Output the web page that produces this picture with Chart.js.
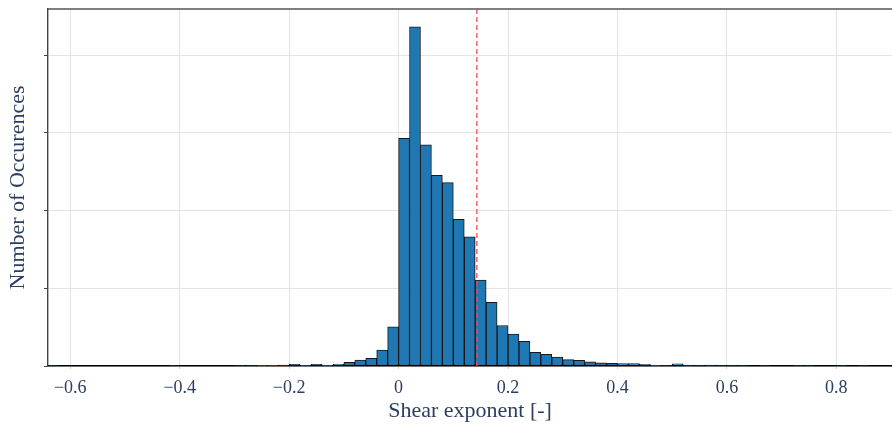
<!DOCTYPE html>
<html>
<head>
<meta charset="utf-8">
<title>Shear exponent histogram</title>
<script src="https://cdn.jsdelivr.net/npm/chart.js@4.4.1/dist/chart.umd.min.js"></script>
<style>
  html, body { margin: 0; padding: 0; background: #fff; }
  #wrap { width: 892px; height: 424px; }
</style>
</head>
<body>
<div id="wrap"><canvas id="c" width="892" height="424"></canvas></div>
<script>
// Histogram of the shear exponent: bins of width 0.02 starting at -0.64
const binStart = -0.64;
const binWidth = 0.02;
const counts = [
  6, 0, 0, 0, 0, 0, 0, 0, 0, 0,          // -0.64 .. -0.46
  0, 6, 0, 0, 0, 0, 0, 6, 6, 10,         // -0.44 .. -0.26
  10, 12, 20, 10, 20, 10, 22, 48, 77, 99, // -0.24 .. -0.06
  206, 505, 2929, 4364, 2845, 2453, 2358, 1887, 1663, 1106, // -0.04 .. 0.14
  819, 521, 412, 318, 176, 150, 116, 81, 73, 55,            // 0.16 .. 0.34
  42, 35, 30, 30, 22, 9, 6, 28, 12, 6,                      // 0.36 .. 0.54
  12, 6, 6, 6, 0, 6, 0, 0, 6, 6,                            // 0.56 .. 0.74
  0, 0, 6, 0, 6                                             // 0.76 .. 0.84
];
// Mean shear exponent marker
const meanShear = 0.143;
const xTickValues = [-0.6, -0.4, -0.2, 0, 0.2, 0.4, 0.6, 0.8];
const yTickValues = [0, 1000, 2000, 3000, 4000];

const xMin = -0.6407, xMax = 0.9017;
const yMax = 4592;

const points = counts.map((c, i) => ({ x: binStart + binWidth * (i + 0.5), y: c }));

const fontFamily = '"Liberation Serif", "Times New Roman", serif';
const textColor = '#2a3f5f';

// Dashed vertical line at the mean plus the top frame line
const overlay = {
  id: 'overlay',
  afterDatasetsDraw(chart) {
    const { ctx, chartArea, scales } = chart;
    const px = scales.x.getPixelForValue(meanShear);
    ctx.save();
    ctx.strokeStyle = 'rgba(255, 70, 70, 0.85)';
    ctx.lineWidth = 1.5;
    ctx.setLineDash([5, 3]);
    ctx.beginPath();
    ctx.moveTo(px, chartArea.top);
    ctx.lineTo(px, chartArea.bottom);
    ctx.stroke();
    ctx.setLineDash([]);
    ctx.strokeStyle = '#555';
    ctx.lineWidth = 1.3;
    ctx.beginPath();
    ctx.moveTo(chartArea.left, chartArea.top);
    ctx.lineTo(chartArea.right, chartArea.top);
    ctx.stroke();
    ctx.restore();
  }
};

new Chart(document.getElementById('c'), {
  type: 'bar',
  data: {
    datasets: [{
      data: points,
      backgroundColor: '#1f77b4',
      borderColor: 'rgba(0,0,0,0.9)',
      borderWidth: 1,
      borderSkipped: false,
      barPercentage: 1.0,
      categoryPercentage: 1.0
    }]
  },
  options: {
    responsive: false,
    animation: false,
    events: [],
    layout: { padding: { top: 9, right: 0, left: 0, bottom: 0 } },
    plugins: { legend: { display: false }, tooltip: { enabled: false } },
    scales: {
      x: {
        type: 'linear',
        min: xMin,
        max: xMax,
        offset: false,
        afterFit(scale) { scale.height = 58; },
        afterBuildTicks(scale) { scale.ticks = xTickValues.map(v => ({ value: v })); },
        grid: { offset: false, color: '#e3e3e3', lineWidth: 1, tickLength: 3, tickColor: '#ccc' },
        border: { color: '#000', width: 1.6 },
        ticks: {
          padding: 8,
          color: textColor,
          font: { family: fontFamily, size: 18 },
          callback: v => {
            const r = Math.round(v * 10) / 10;
            return r === 0 ? '0' : String(r).replace('-', '\u2212');
          }
        },
        title: {
          display: true,
          text: 'Shear exponent [-]',
          color: textColor,
          font: { family: fontFamily, size: 22 },
          padding: { bottom: 0, top: 0 }
        }
      },
      y: {
        min: 0,
        max: yMax,
        afterFit(scale) { scale.width = 48; },
        afterBuildTicks(scale) { scale.ticks = yTickValues.map(v => ({ value: v })); },
        grid: { color: '#e3e3e3', lineWidth: 1, tickLength: 4, tickColor: '#444' },
        border: { color: '#444', width: 1.4 },
        ticks: { display: false },
        title: {
          display: true,
          text: 'Number of Occurences',
          color: textColor,
          font: { family: fontFamily, size: 22 },
          padding: { top: 5, bottom: 0 }
        }
      }
    }
  },
  plugins: [overlay]
});
</script>
</body>
</html>
